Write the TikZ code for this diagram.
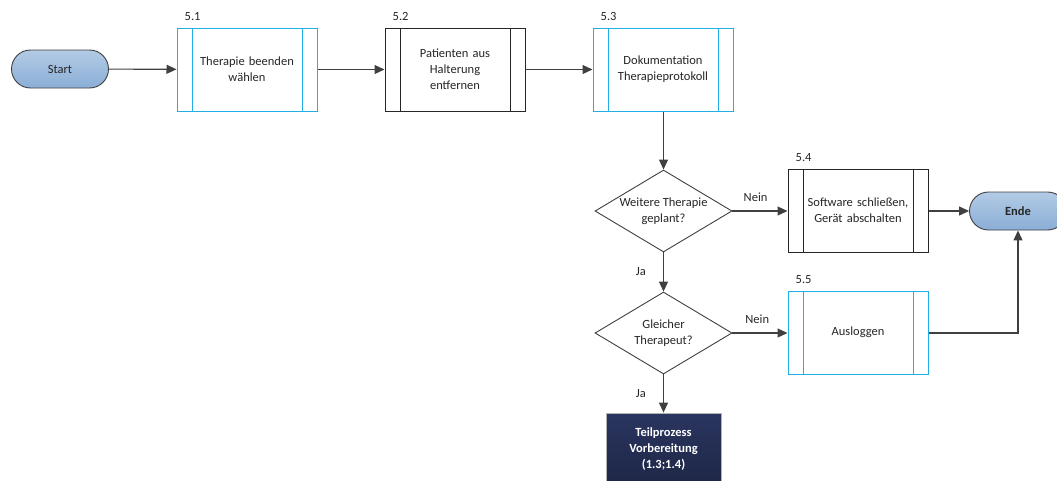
\documentclass[tikz,border=0pt]{standalone}
\usepackage{fontspec}
\setmainfont{Carlito}
\usetikzlibrary{shapes.geometric,arrows.meta}

\definecolor{flowline}{HTML}{404040}
\definecolor{cyanedge}{HTML}{1FB0E6}
\definecolor{darkedge}{HTML}{262626}
\definecolor{termtop}{HTML}{B2CBE5}
\definecolor{termbot}{HTML}{8BAED6}
\definecolor{navytop}{HTML}{2A3560}
\definecolor{navybot}{HTML}{1E2746}

\tikzset{
  txt/.style={font=\fontsize{12.5}{16}\selectfont, text=black!85},
  subproc/.style={txt, draw=#1, fill=white, line width=1pt,
    minimum width=140pt, minimum height=83pt, inner sep=0pt,
    text width=108pt, align=center,
    path picture={
      \draw[#1, line width=1pt]
        ([xshift=15pt]path picture bounding box.north west) --
        ([xshift=15pt]path picture bounding box.south west);
      \draw[#1, line width=1pt]
        ([xshift=-15pt]path picture bounding box.north east) --
        ([xshift=-15pt]path picture bounding box.south east);
    }},
  terminal/.style={txt, draw=flowline, line width=0.9pt, rounded corners=19pt,
    minimum width=97pt, minimum height=38pt, inner sep=0pt,
    top color=termtop, bottom color=termbot},
  decision/.style={diamond, draw=flowline, fill=white, line width=0.9pt,
    minimum width=137pt, minimum height=82pt, inner sep=0pt},
  dectext/.style={txt, align=center, inner sep=0pt},
  stepno/.style={txt, anchor=base west, inner sep=0pt},
  flow/.style={draw=flowline, line width=1.1pt,
    -{Triangle[length=10pt,width=9pt]}},
  edgelabel/.style={txt, inner sep=0pt},
  subprocess/.style={txt, font=\fontsize{12.5}{16}\selectfont\bfseries,
    text=white, draw=gray!60, line width=0.8pt,
    top color=navytop, bottom color=navybot,
    minimum width=115pt, minimum height=72pt, inner sep=0pt, align=center}
}

\begin{document}
\begin{tikzpicture}[x=1pt,y=-1pt]
  \useasboundingbox (0,0) rectangle (1057,480);

  % terminals
  \node[terminal] (start) at (60,69) {Start};
  \node[terminal, font=\fontsize{12.5}{16}\selectfont\bfseries] (ende) at (1018,211) {Ende};

  % top row of sub-processes
  \node[subproc=cyanedge] (s1) at (247,69.5) {Therapie beenden\\wählen};
  \node[subproc=darkedge] (s2) at (455,69.5) {Patienten aus\\Halterung\\entfernen};
  \node[subproc=cyanedge] (s3) at (663,69.5) {Dokumentation\\Therapieprotokoll};

  % decisions
  \node[decision, label={[dectext]center:Weitere Therapie\\geplant?}] (d1) at (663.5,211) {};
  \node[decision, label={[dectext]center:Gleicher\\Therapeut?}] (d2) at (663.5,333) {};

  % right column
  \node[subproc=darkedge] (s4) at (858,210.5) {Software schließen,\\Gerät abschalten};
  \node[subproc=cyanedge] (s5) at (858,332.5) {Ausloggen};

  % follow-up process
  \node[subprocess] (prep) at (663.5,449) {Teilprozess\\Vorbereitung\\(1.3;1.4)};

  % step numbers
  \node[stepno] (n1) at ([xshift=8pt,yshift=7pt]s1.north west) {5.1};
  \node[stepno] (n2) at ([xshift=8pt,yshift=7pt]s2.north west) {5.2};
  \node[stepno] (n3) at ([xshift=8pt,yshift=7pt]s3.north west) {5.3};
  \node[stepno] (n4) at ([xshift=8pt,yshift=7pt]s4.north west) {5.4};
  \node[stepno] (n5) at ([xshift=8pt,yshift=7pt]s5.north west) {5.5};

  % connectors
  \draw[flow] (start) -- (s1);
  \draw[flow] (s1) -- (s2);
  \draw[flow] (s2) -- (s3);
  \draw[flow] (s3.south -| d1.north) -- (d1.north);
  \draw[flow] (d1.east) -- node[edgelabel, pos=0.42, above=9pt] {Nein} (s4.west |- d1.east);
  \draw[flow] (s4.east |- ende.west) -- (ende.west);
  \draw[flow] (d1.south) -- node[edgelabel, midway, left=17pt] {Ja} (d2.north);
  \draw[flow] (d2.east) -- node[edgelabel, pos=0.45, above=9pt] {Nein} (s5.west |- d2.east);
  \draw[flow] (s5.east |- d2.east) -| (ende.south);
  \draw[flow] (d2.south) -- node[edgelabel, midway, left=17pt] {Ja} (prep.north);
\end{tikzpicture}
\end{document}
